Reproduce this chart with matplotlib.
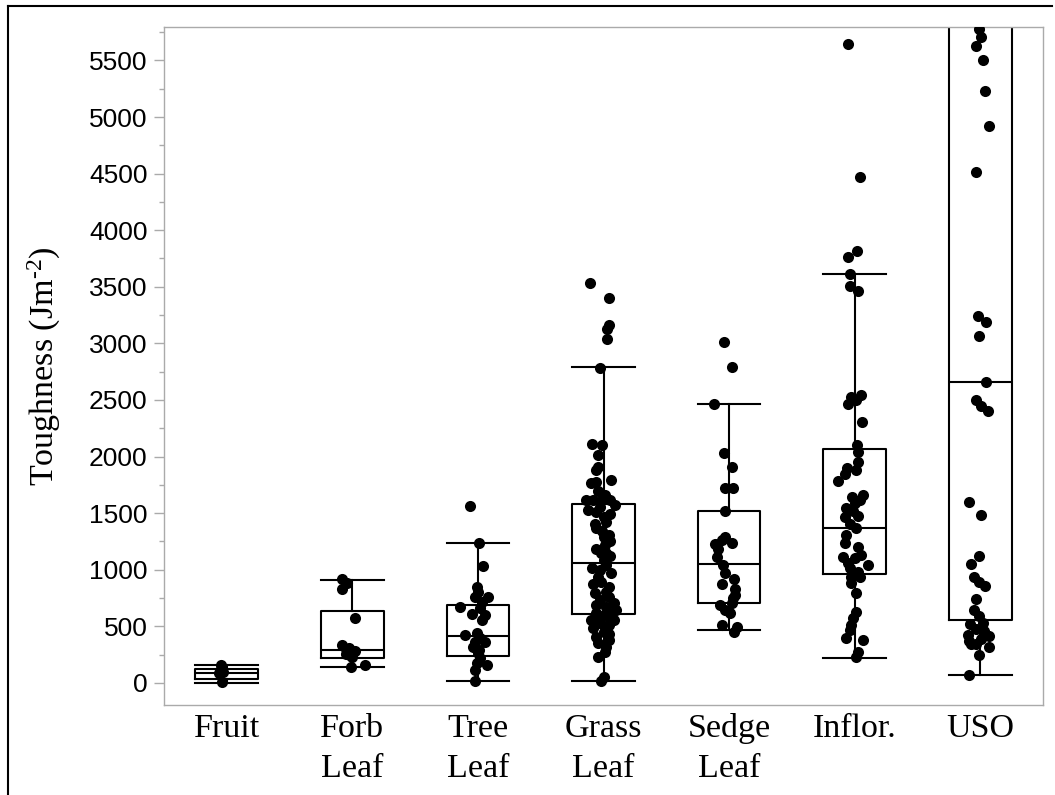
import matplotlib
matplotlib.use("Agg")
import matplotlib.pyplot as plt
from matplotlib.lines import Line2D
import numpy as np

# ================= DATA =================
categories = ["Fruit", "Forb\nLeaf", "Tree\nLeaf", "Grass\nLeaf", "Sedge\nLeaf", "Inflor.", "USO"]

# box stats (Jm-2): lower whisker, Q1, median, Q3, upper whisker
whis_lo = [3, 139, 20, 20, 468, 224, 71]
q1 = [33, 224, 241, 607, 709, 960, 557]
medians = [92, 291, 415, 1063, 1051, 1372, 2655]
q3 = [121, 636, 689, 1578, 1522, 2067, 6000]
whis_hi = [159, 910, 1239, 2788, 2464, 3610, 7000]

# individual points (value, horizontal jitter)
fruit_y = [162, 127, 95, 88, 11]
fruit_dx = [-0.05, -0.05, -0.03, -0.06, -0.04]

forb_y = [916, 880, 827, 577, 336, 310, 297, 280, 256, 240, 227, 156, 139]
forb_dx = [-0.08, -0.04, -0.08, 0.02, -0.08, -0.03, -0.05, 0.02, -0.05, -0.01, 0.00, 0.10, -0.01]

tree_y = [1566, 1239, 1033, 851, 806, 757, 757, 718, 674, 660, 609, 601, 556,
          438, 424, 400, 365, 365, 321, 290, 262, 218, 174, 159, 115, 20]
tree_dx = [-0.06, 0.01, 0.04, -0.01, 0.00, 0.08, -0.02, 0.03, -0.14, 0.02, -0.05, 0.06, 0.03,
           -0.01, -0.10, 0.02, -0.02, 0.06, -0.04, 0.01, 0.00, 0.02, -0.01, 0.07, -0.02, -0.02]

grass_y = [3536, 3403, 3162, 3124, 3038, 2780, 2111, 2102, 2014, 1910, 1881, 1793, 1779,
           1770, 1616, 1616, 1616, 1616, 1572, 1528, 1513, 1469, 1425, 1366, 1307, 1293,
           1219, 1146, 1146, 1087, 1013, 999, 969, 895, 851, 806, 792, 703, 689, 645, 615,
           615, 556, 556, 527, 512, 483, 453, 409, 380, 321, 232, 56, 20,
           1700, 1660, 1550, 1490, 1400, 1340, 1250, 1180, 1120, 1040, 940, 870, 760, 730,
           670, 590, 570, 540, 430, 350, 270]
grass_dx = [-0.11, 0.04, 0.04, 0.03, 0.03, -0.03, -0.09, -0.01, -0.04, -0.04, -0.06, 0.06, -0.06,
            -0.10, -0.14, -0.08, -0.01, 0.05, 0.09, -0.12, -0.06, 0.00, 0.02, -0.06, 0.04, 0.00,
            0.01, -0.02, 0.02, 0.00, -0.09, -0.03, 0.06, -0.02, 0.04, 0.02, -0.07, 0.08, -0.06, 0.10, -0.06,
            0.04, -0.10, 0.08, -0.03, 0.04, -0.08, 0.00, -0.06, 0.04, 0.02, -0.04, 0.00, -0.02,
            -0.04, 0.01, -0.03, 0.05, -0.07, -0.01, 0.05, -0.06, 0.05, 0.02, -0.04, -0.08, 0.04, -0.03,
            0.02, -0.01, -0.07, 0.05, 0.04, -0.04, 0.01]

sedge_y = [3009, 2794, 2464, 2029, 1905, 1720, 1720, 1519, 1293, 1267, 1239, 1225, 1180,
           1116, 1042, 969, 919, 874, 827, 780, 748, 703, 689, 645, 615, 512, 497, 453]
sedge_dx = [-0.04, 0.02, -0.12, -0.04, 0.02, -0.03, 0.03, -0.03, -0.03, -0.06, 0.02, -0.11, -0.09,
            -0.10, -0.05, -0.03, 0.04, -0.06, 0.05, 0.05, 0.03, 0.02, -0.07, -0.03, 0.01, -0.06, 0.06, 0.04]

inflor_y = [5644, 4466, 3818, 3765, 3612, 3506, 3465, 2544, 2529, 2500, 2464, 2308, 2102,
            2043, 1955, 1896, 1881, 1846, 1787, 1660, 1646, 1620, 1587, 1543, 1520, 1475, 1469,
            1400, 1366, 1307, 1234, 1200, 1131, 1116, 1101, 1060, 1042, 1013, 984, 939, 939,
            880, 792, 630, 571, 512, 468, 394, 380, 276, 232]
inflor_dx = [-0.05, 0.04, 0.02, -0.05, -0.04, -0.04, 0.03, 0.05, -0.03, 0.01, -0.05, 0.06, 0.02,
             0.03, 0.03, -0.06, 0.01, -0.08, -0.13, 0.07, -0.02, 0.04, 0.00, -0.07, -0.01, 0.03, -0.08,
             -0.04, 0.01, -0.07, -0.08, 0.03, 0.05, -0.09, 0.00, -0.05, 0.11, -0.04, 0.03, -0.03, 0.04,
             -0.03, 0.01, 0.01, -0.01, -0.03, -0.04, -0.07, 0.07, 0.03, 0.01]

uso_y = [5775, 5706, 5630, 5507, 5228, 4925, 4512, 3241, 3191, 3065, 2655, 2498, 2445, 2406,
         1602, 1487, 1123, 1047, 932, 894, 856, 741, 646, 589, 531, 520, 474, 455, 417, 425,
         386, 371, 340, 320, 340, 245, 71]
uso_dx = [-0.01, 0.01, -0.03, 0.02, 0.04, 0.07, -0.03, -0.02, 0.05, -0.01, 0.05, -0.03, 0.01, 0.06,
          -0.09, 0.01, -0.01, -0.07, -0.05, -0.01, 0.04, -0.03, -0.05, -0.01, 0.02, -0.08, -0.03, 0.03,
          0.07, -0.10, 0.01, -0.09, -0.03, 0.07, -0.07, -0.01, -0.09]

points_y = [fruit_y, forb_y, tree_y, grass_y, sedge_y, inflor_y, uso_y]
points_dx = [fruit_dx, forb_dx, tree_dx, grass_dx, sedge_dx, inflor_dx, uso_dx]

# ================= PLOT =================
plt.rcParams["mathtext.fontset"] = "custom"
plt.rcParams["mathtext.rm"] = "Liberation Serif"
plt.rcParams["mathtext.default"] = "regular"

fig = plt.figure(figsize=(10.55, 7.95), dpi=100)
ax = fig.add_axes([0.1555, 0.1132, 0.8331, 0.8528])

stats = []
for i in range(len(categories)):
    stats.append({"whislo": whis_lo[i], "q1": q1[i], "med": medians[i],
                  "q3": q3[i], "whishi": whis_hi[i]})

line = dict(color="black", linewidth=1.5)
ax.bxp(stats, positions=range(len(categories)), widths=0.5, capwidths=0.5,
       showfliers=False, boxprops=line, medianprops=line,
       whiskerprops=line, capprops=line)

for i, (ys, dxs) in enumerate(zip(points_y, points_dx)):
    xs = [i + d for d in dxs]
    ax.scatter(xs, ys, s=64, color="black", zorder=3, linewidths=0)

ax.set_xlim(-0.5, 6.5)
ax.set_ylim(-195, 5795)
ax.set_yticks(np.arange(0, 5501, 500))
ax.set_yticks(np.arange(250, 5751, 500), minor=True)
ax.set_xticks(range(len(categories)))
ax.set_xticklabels(categories, fontfamily="Liberation Serif", fontsize=24.5, linespacing=1.4)
for lbl in ax.get_yticklabels():
    lbl.set_fontfamily("Liberation Sans")
    lbl.set_fontsize(19)

for sp in ax.spines.values():
    sp.set_color("#aaaaaa")
    sp.set_linewidth(1.0)
ax.tick_params(axis="y", which="major", length=7, width=1, color="#aaaaaa", pad=5)
ax.tick_params(axis="y", which="minor", length=3.5, width=1, color="#aaaaaa")
ax.tick_params(axis="x", length=0, pad=6)

ax.set_ylabel(r"Toughness (Jm$^{\text{-}2}$)", fontfamily="Liberation Serif", fontsize=24.5)
ax.yaxis.set_label_coords(-0.115, 0.5)

# outer black frame (top and left edges visible)
fig.add_artist(Line2D([8 / 1055, 1052 / 1055], [1 - 6 / 795, 1 - 6 / 795],
                      color="black", linewidth=1.5, transform=fig.transFigure))
fig.add_artist(Line2D([8 / 1055, 8 / 1055], [0, 1 - 6 / 795],
                      color="black", linewidth=1.5, transform=fig.transFigure))

fig.savefig("out.png", dpi=100)
